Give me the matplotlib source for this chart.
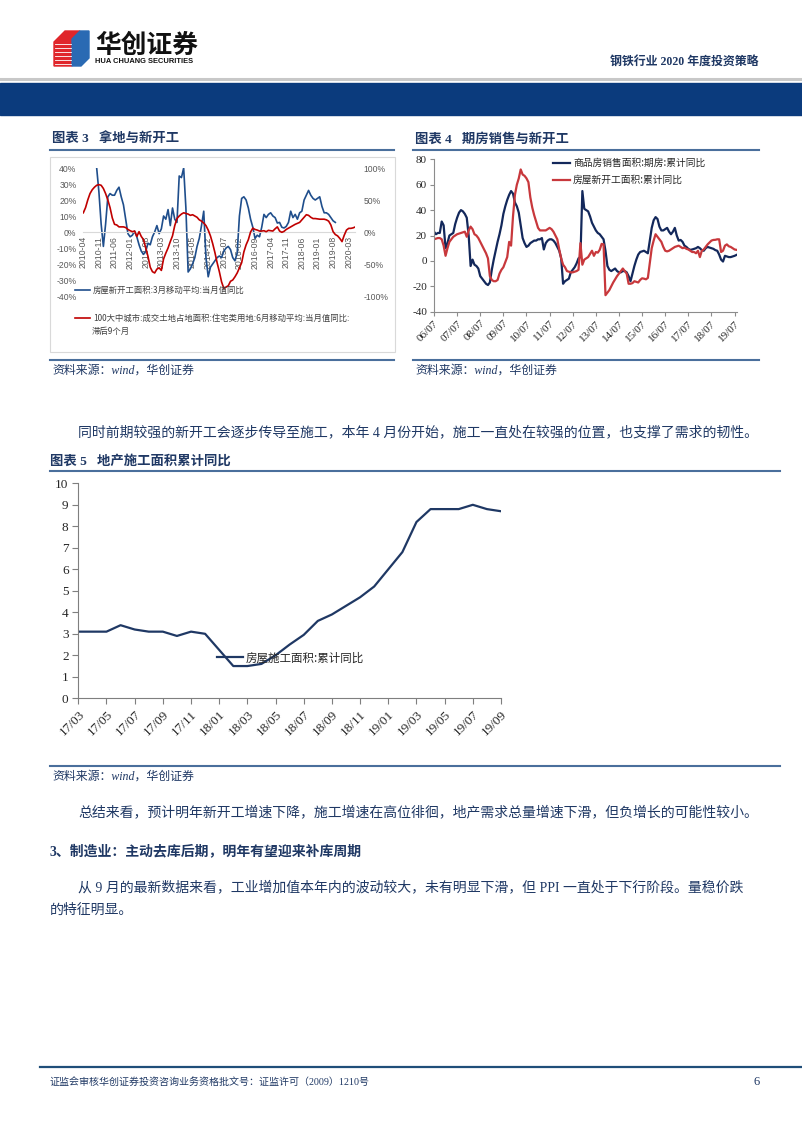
import matplotlib
matplotlib.use("Agg")
import matplotlib.pyplot as plt
from matplotlib.lines import Line2D
from matplotlib.patches import Rectangle, Polygon
from matplotlib.font_manager import FontProperties

plt.rcParams["axes.unicode_minus"] = False

# =================== DATA ===================
# chart 3: months counted from 2010-04
c3_ticks = ["2010-04", "2010-11", "2011-06", "2012-01", "2012-08", "2013-03",
            "2013-10", "2014-05", "2014-12", "2015-07", "2016-02", "2016-09",
            "2017-04", "2017-11", "2018-06", "2019-01", "2019-08", "2020-03"]
c3_blue_start = 6   # 2010-10
c3_blue = [40, 25, 5, -9, 5, 22, 24, 23, 23, 26, 28, 22, 17, 8, -1, -3, -2, 0.5,
           -3, -8, -12, -14, -12, -7, -8, -3, 0, 4, -1, 2, 10, 8, 14, 4, 15, 8,
           6, 35, 34, 40, 15, -25, -23, -20, -16, -9, -4, 4, 13, -16, -28, -22,
           -20, -18, -16, -15, -16, -12, -10, -9, -11, -16, -18, -13, 10, 21, 22,
           20, 15, 8, 3, -4, -2, -3, 3, 11, 9, 11, 12, 10, 9, 5.6, 6, 3, 2.5, 3.5,
           6, 13, 9, 11, 8, 12, 13, 20, 23, 26, 23, 21, 20, 21, 22, 16, 12, 12,
           11, 9, 7, 6]
c3_red = [30, 38, 50, 60, 66, 70, 73, 74, 73, 68, 60, 50, 38, 22, 12, 11, 8, 8,
          8, 7, 4, 2, 0.5, 1.5, -7, 0.5, -7, -12, -25, -38, -55, -62, -64, -58,
          -56, -60, -42, -33, -25, -15, -6, 10, 21, 25, 28, 30, 29, 28, 26, 27,
          25, 23, 19, 17, 14, 10, 3, -6, -18, -32, -48, -62, -78, -88, -86, -84,
          -77, -75, -70, -64, -56, -48, -31, -20, -12, 0, 6, 4, 3, 1.5, 1.5, 2,
          0.5, 2.6, 2, 1.5, 5, 8, 1.5, -0.5, 1, 4, 6, 8, 10, 12, 13.5, 15, 19,
          23, 27, 26, 23, 21, 21, 20.5, 20, 20, 20, 19, 17, 11, 0.5, -4, -6, -10,
          -15, -5, 3, 5.7, 5.7, 6.5, 8]
c3_blue_label = "房屋新开工面积:3月移动平均:当月值同比"
c3_red_label = "100大中城市:成交土地占地面积:住宅类用地:6月移动平均:当月值同比:"

# chart 4: months counted from 2006-07
c4_ticks = ["06/07", "07/07", "08/07", "09/07", "10/07", "11/07", "12/07",
            "13/07", "14/07", "15/07", "16/07", "17/07", "18/07", "19/07"]
c4_sales = [23, 21, 22, 22, 31, 28, 10, 14, 20, 21, 22, 29, 34, 38, 40, 39, 37,
            34, 20, -4, 1, -3, -4, -6, -12, -14, -16, -18, -19, -17, -7, 1, 8,
            15, 21, 28, 37, 43, 48, 52, 55, 53, 46, 43, 38, 28, 18, 14, 11, 12,
            14, 15, 16, 16, 17, 17, 18, 9, 14, 16, 17, 17, 16, 14, 11, 8, 2, -18,
            -16, -15, -14, -9, -7, -5, -2, 2, 3, 55, 41, 40, 39, 35, 30, 27, 24,
            22, 21, 19, 17, 8, -4, -7, -8, -7, -6, -8, -9, -9, -8, -8, -9, -12,
            -16, -10, -4, 1, 5, 7, 7.5, 8, 7, 6, 16, 26, 32, 34.5, 33, 27, 24, 24,
            25, 26, 23, 21, 23, 26, 20, 16, 16.5, 15, 12, 11, 9.5, 8.7, 9, 9.5,
            10, 11, 10, 8.5, 8, 10, 11, 10.5, 10, 9.5, 8.5, 8, 5, 1, -0.5, 4, 3.5,
            3, 3, 3.5, 4, 4.7]
c4_starts = [17, 17.5, 18, 18, 17, 12, 4, 10, 15, 17, 19, 20, 21, 21.5, 22, 22.5,
             23, 19, 24, 27, 25, 21, 20, 18, 15, 12, 9, 6, 2, -12, -15, -16, -16,
             -15, -10, -7, -5, -1, 3, 15, 12, 35, 52, 60, 65, 72, 68, 67, 65, 62,
             50, 42, 36, 31, 26, 24, 24, 24, 24, 25, 26, 25, 23, 20, 17, 9, 2, -3,
             -5, -8, -8.5, -9, -9, -8.5, -8, -7, 14, -3, 1, 2, 3, 5.5, 8, 4, 7,
             6.5, 8.7, 13.4, 13, -27, -25, -23, -20, -17, -14.5, -12, -10, -8, -6,
             -8, -10, -18, -18, -17.5, -16, -16.5, -17, -15, -13.7, -14, -14.5,
             -13.4, -2, 10, 16, 21, 19, 17, 15, 11, 8, 7.5, 8, 9, 10, 11, 11.5, 12,
             11, 10, 10.5, 9.5, 9, 8, 7, 7, 6, 8, 3, 8, 9, 11, 13, 14.5, 16, 16.5,
             16.6, 17, 17, 7, 8, 12, 13, 11.5, 11, 10, 9, 8.7]
c4_sales_label = "商品房销售面积:期房:累计同比"
c4_starts_label = "房屋新开工面积:累计同比"

# chart 5: months 17/03 .. 19/09
c5_months = ["17/03", "17/04", "17/05", "17/06", "17/07", "17/08", "17/09",
             "17/10", "17/11", "17/12", "18/01", "18/02", "18/03", "18/04",
             "18/05", "18/06", "18/07", "18/08", "18/09", "18/10", "18/11",
             "18/12", "19/01", "19/02", "19/03", "19/04", "19/05", "19/06",
             "19/07", "19/08", "19/09"]
c5_values = [3.1, 3.1, 3.1, 3.4, 3.2, 3.1, 3.1, 2.9, 3.1, 3.0, 2.25, 1.5, 1.5,
             1.6, 2.0, 2.5, 2.95, 3.6, 3.9, 4.3, 4.7, 5.2, 6.0, 6.8, 8.2, 8.8,
             8.8, 8.8, 9.0, 8.8, 8.7]
c5_label = "房屋施工面积:累计同比"

# =================== PAGE SETUP ===================
W, H = 802, 1133
fig = plt.figure(figsize=(W / 100, H / 100), dpi=100)

NAVY = "#1f3864"
SERIF_CJK = ["Liberation Serif", "Noto Sans CJK SC"]
SANS_CJK = ["Noto Sans CJK SC", "DejaVu Sans"]


def box(x0, y0, x1, y1):
    return [x0 / W, 1 - y1 / H, (x1 - x0) / W, (y1 - y0) / H]


def txt(x, y, s, size, color=NAVY, family=SERIF_CJK, **kw):
    kw.setdefault("va", "center")
    fig.text(x / W, 1 - y / H, s, fontsize=size, color=color, family=family, **kw)


def hline(x0, x1, y, color, lw):
    fig.add_artist(Line2D([x0 / W, x1 / W], [1 - y / H] * 2, color=color, lw=lw,
                          transform=fig.transFigure))


def legend_at(line, label, x, y, size, hl_px, family=SANS_CJK, color="#262626"):
    fs_px = size * 100 / 72
    lg = fig.legend([line], [label], loc="center left",
                    bbox_to_anchor=(x / W, 1 - y / H), bbox_transform=fig.transFigure,
                    frameon=False, borderpad=0, borderaxespad=0,
                    handlelength=hl_px / fs_px, handletextpad=3 / fs_px,
                    prop=FontProperties(family=family, size=size))
    for t in lg.get_texts():
        t.set_color(color)


# header
logo_red = Polygon([(54 / W, 1 - 42 / H), (65 / W, 1 - 31 / H), (80 / W, 1 - 31 / H),
                    (72 / W, 1 - 39 / H), (72 / W, 1 - 66 / H), (54 / W, 1 - 66 / H)],
                   closed=True, color="#e0262b", transform=fig.transFigure)
logo_blue = Polygon([(72 / W, 1 - 39 / H), (80 / W, 1 - 31 / H), (89 / W, 1 - 31 / H),
                     (89 / W, 1 - 58 / H), (81 / W, 1 - 66 / H), (72 / W, 1 - 66 / H)],
                    closed=True, color="#2a6ab3", transform=fig.transFigure)
fig.add_artist(logo_red)
fig.add_artist(logo_blue)
for k in range(6):
    yy = 44 + k * 4
    hline(55, 71, yy, "white", 0.6)
txt(95, 45, "华创证券", 18.5, color="#111111", family=SANS_CJK, weight="heavy")
txt(95, 61.5, "HUA CHUANG SECURITIES", 5.4, color="#111111", family=["Liberation Sans"],
    weight="bold")
txt(758, 63, "钢铁行业 2020 年度投资策略", 8.6, ha="right", weight="bold")
hline(0, W, 78.5, "#c8c8c8", 2.2)
fig.add_artist(Rectangle((0, 1 - 115 / H), 1, 32 / H, color="#0b3b7d",
                         transform=fig.transFigure))

# =================== CHART 3 ===================
txt(52, 139, "图表 3   拿地与新开工", 9.6, weight="bold")
hline(50, 394, 150, "#4a6f9c", 1.5)
fig.add_artist(Rectangle((50 / W, 1 - 352 / H), 345 / W, 195 / H, fill=False,
                         edgecolor="#d9d9d9", lw=0.8, transform=fig.transFigure))

ax3 = fig.add_axes(box(83.3, 168, 355.4, 296))
ax3.spines["bottom"].set_position(("data", 0))
ax3r = ax3.twinx()
xb = list(range(c3_blue_start, c3_blue_start + len(c3_blue)))
xr = list(range(len(c3_red)))
l3b, = ax3.plot(xb, c3_blue, color="#1f4e8c", lw=1.2)
l3r, = ax3r.plot(xr, c3_red, color="#c00000", lw=1.2)
ax3.set_xlim(0, 122)
ax3.set_ylim(-40, 40)
ax3r.set_ylim(-100, 100)
ax3.set_yticks(range(-40, 41, 10))
ax3.set_yticklabels([f"{v}%" for v in range(-40, 41, 10)])
ax3r.set_yticks(range(-100, 101, 50))
ax3r.set_yticklabels([f"{v}%" for v in range(-100, 101, 50)])
ax3.set_xticks(range(0, 7 * len(c3_ticks), 7))
ax3.set_xticklabels(c3_ticks)
for a in (ax3, ax3r):
    for s in ("top", "left", "right", "bottom"):
        a.spines[s].set_visible(False)
    a.patch.set_visible(False)
ax3.spines["bottom"].set_visible(True)
ax3.spines["bottom"].set_color("#d9d9d9")
ax3.tick_params(axis="x", length=0, pad=3, labelsize=6.3, labelcolor="#595959",
                labelrotation=90)
ax3.tick_params(axis="y", length=0, pad=5, labelsize=6.2, labelcolor="#595959")
ax3r.tick_params(axis="y", length=0, pad=6, labelsize=6.2, labelcolor="#595959")
for t in ax3.get_xticklabels() + ax3.get_yticklabels() + ax3r.get_yticklabels():
    t.set_family("Liberation Sans")

legend_at(l3b, c3_blue_label, 75, 290, 6.0, 15, color="#404040")
legend_at(l3r, c3_red_label, 75, 318, 6.0, 15, color="#404040")
txt(92, 331.5, "滞后9个月", 6.0, color="#404040", family=SANS_CJK)

hline(50, 394, 360, "#4a6f9c", 1.5)
txt(52, 371, "资料来源：wind，华创证券", 8.6, style="italic")

# =================== CHART 4 ===================
txt(415, 139, "图表 4   期房销售与新开工", 9.6, weight="bold")
hline(413, 759, 150, "#4a6f9c", 1.5)

ax4 = fig.add_axes(box(434, 159.3, 736.5, 311.7))
x4 = list(range(len(c4_sales)))
l4s, = ax4.plot(x4, c4_sales, color="#13285b", lw=1.6)
l4n, = ax4.plot(list(range(len(c4_starts))), c4_starts, color="#c8383c", lw=1.6)
ax4.set_xlim(0, 157)
ax4.set_ylim(-40, 80)
ax4.set_yticks(range(-40, 81, 20))
ax4.set_xticks(range(0, 12 * len(c4_ticks), 12))
ax4.set_xticklabels(c4_ticks)
plt.setp(ax4.get_xticklabels(), rotation=45, ha="right", rotation_mode="anchor")
for s in ("top", "right"):
    ax4.spines[s].set_visible(False)
for s in ("left", "bottom"):
    ax4.spines[s].set_color("#8c8c8c")
    ax4.spines[s].set_linewidth(0.8)
ax4.tick_params(length=3, width=0.8, color="#8c8c8c", labelsize=8, labelcolor="#262626", pad=2)
for t in ax4.get_xticklabels() + ax4.get_yticklabels():
    t.set_family("Liberation Serif")

legend_at(l4s, c4_sales_label, 553, 163, 7, 17)
legend_at(l4n, c4_starts_label, 553, 180, 7, 17)

hline(413, 759, 360, "#4a6f9c", 1.5)
txt(415, 371, "资料来源：wind，华创证券", 8.6, style="italic")

# =================== BODY TEXT ===================
txt(78, 432, "同时前期较强的新开工会逐步传导至施工，本年 4 月份开始，施工一直处在较强的位置，也支撑了需求的韧性。", 10.0)

# =================== CHART 5 ===================
txt(50, 461, "图表 5   地产施工面积累计同比", 9.6, weight="bold")
hline(50, 780, 470.5, "#4a6f9c", 1.5)

ax5 = fig.add_axes(box(78.3, 483.3, 501, 698.3))
l5, = ax5.plot(range(len(c5_values)), c5_values, color="#1f3864", lw=1.6)
ax5.set_xlim(0, len(c5_values) - 1)
ax5.set_ylim(0, 10)
ax5.set_yticks(range(0, 11))
ax5.set_xticks(range(0, len(c5_months), 2))
ax5.set_xticklabels(c5_months[::2])
plt.setp(ax5.get_xticklabels(), rotation=45, ha="right", rotation_mode="anchor")
for s in ("top", "right"):
    ax5.spines[s].set_visible(False)
for s in ("left", "bottom"):
    ax5.spines[s].set_color("#7f7f7f")
    ax5.spines[s].set_linewidth(0.8)
ax5.tick_params(length=4, width=0.8, color="#7f7f7f", labelsize=9.5, labelcolor="#262626", pad=3)
for t in ax5.get_xticklabels() + ax5.get_yticklabels():
    t.set_family("Liberation Serif")

legend_at(l5, c5_label, 217, 658, 8.3, 26)

hline(50, 780, 766, "#4a6f9c", 1.5)
txt(52, 777, "资料来源：wind，华创证券", 8.6, style="italic")

# =================== MORE TEXT ===================
txt(78, 812, "总结来看，预计明年新开工增速下降，施工增速在高位徘徊，地产需求总量增速下滑，但负增长的可能性较小。", 10.0)
txt(50, 851, "3、制造业：主动去库后期，明年有望迎来补库周期", 10.0, weight="bold")
txt(78, 887, "从 9 月的最新数据来看，工业增加值本年内的波动较大，未有明显下滑，但 PPI 一直处于下行阶段。量稳价跌", 10.0)
txt(50, 910, "的特征明显。", 10.0)

# footer
hline(40, W, 1067, "#1f4e79", 1.6)
txt(50, 1082, "证监会审核华创证券投资咨询业务资格批文号：证监许可（2009）1210号", 7.2)
txt(760, 1082, "6", 9, ha="right")

fig.savefig("out.png", dpi=100)
